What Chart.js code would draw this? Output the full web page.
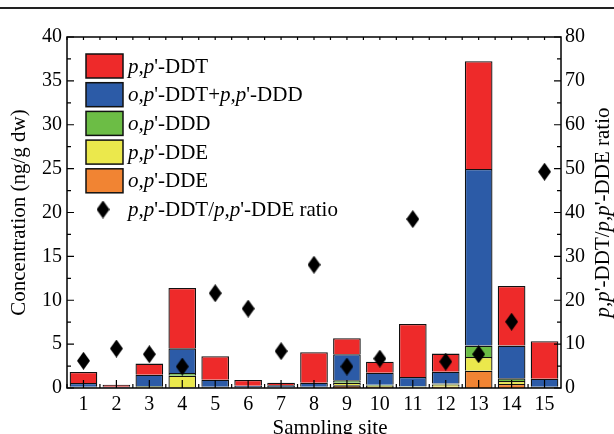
<!DOCTYPE html>
<html>
<head>
<meta charset="utf-8">
<script src="https://cdn.jsdelivr.net/npm/chart.js@4.4.1/dist/chart.umd.min.js"></script>
<style>
  body { margin: 0; background: #fff; }
  #wrap { position: relative; width: 614px; height: 434px; }
</style>
</head>
<body>
<div id="wrap"><canvas id="myChart" width="614" height="434"></canvas></div>
<script>
// sitios de muestreo
const sitios = ['1', '2', '3', '4', '5', '6', '7', '8', '9', '10', '11', '12', '13', '14', '15'];

// concentraciones (ng/g dw), de abajo hacia arriba en la pila
const opDDE   = [0.03, 0.02, 0.03, 0.05, 0.03, 0.01, 0.01, 0.02, 0.30, 0.10, 0.03, 0.15, 1.98, 0.45, 0.03];
const ppDDE   = [0.05, 0.03, 0.10, 1.36, 0.07, 0.02, 0.03, 0.07, 0.30, 0.15, 0.10, 0.25, 1.56, 0.35, 0.07];
const opDDD   = [0.05, 0.02, 0.10, 0.30, 0.05, 0.02, 0.02, 0.05, 0.27, 0.13, 0.07, 0.10, 1.29, 0.30, 0.05];
const opDDTppDDD = [0.45, 0.08, 1.29, 2.81, 0.80, 0.22, 0.24, 0.47, 2.97, 1.37, 1.05, 1.36, 20.14, 3.73, 0.91];
const ppDDT   = [1.25, 0.23, 1.26, 6.88, 2.66, 0.64, 0.31, 3.46, 1.83, 1.25, 6.05, 2.06, 12.28, 6.80, 4.26];

// razón p,p'-DDT/p,p'-DDE (eje derecho)
const razon = [6.2, 9.0, 7.7, 4.9, 21.6, 18.1, 8.4, 28.1, 4.9, 6.7, 38.5, 6.0, 7.7, 15.1, 49.3];

// etiquetas: lo que va entre _ se escribe en cursiva
const nombres = ["_o,p_'-DDE", "_p,p_'-DDE", "_o,p_'-DDD", "_o,p_'-DDT+_p,p_'-DDD", "_p,p_'-DDT"];
const nombreRazon = "_p,p_'-DDT/_p,p_'-DDE ratio";
const colores = ['#f18433', '#ebe84c', '#6cbd45', '#2c5ba7', '#ee2a2a'];

const FUENTE = '"Liberation Serif", "DejaVu Serif", serif';

// rombo alto para los puntos
const rombo = document.createElement('canvas');
rombo.width = 13;
rombo.height = 18;
(function () {
    const c = rombo.getContext('2d');
    c.fillStyle = '#000';
    c.beginPath();
    c.moveTo(6.5, 0);
    c.lineTo(13, 9);
    c.lineTo(6.5, 18);
    c.lineTo(0, 9);
    c.closePath();
    c.fill();
})();

function textoMixto(ctx, txt, x, y, size, medir) {
    const partes = txt.split('_');
    let ancho = 0;
    partes.forEach((p, i) => {
        ctx.font = (i % 2 ? 'italic ' : '') + size + 'px ' + FUENTE;
        if (!medir) ctx.fillText(p, x + ancho, y);
        ancho += ctx.measureText(p).width;
    });
    return ancho;
}

const adornos = {
    id: 'adornos',
    afterDraw(chart) {
        const ctx = chart.ctx;
        const a = chart.chartArea;
        const xs = chart.scales.x, ys = chart.scales.y, ys1 = chart.scales.y1;
        ctx.save();

        // raya superior de la página
        ctx.fillStyle = '#222';
        ctx.fillRect(0, 7, 614, 2);

        // marco
        ctx.strokeStyle = '#000';
        ctx.lineWidth = 1.5;
        ctx.strokeRect(a.left, a.top, a.right - a.left, a.bottom - a.top);

        ctx.lineWidth = 1.2;
        ctx.beginPath();
        // eje izquierdo: mayores cada 5, menores cada 2.5
        for (let v = 0; v <= 40; v += 2.5) {
            const y = ys.getPixelForValue(v);
            const l = v % 5 === 0 ? 7 : 4;
            ctx.moveTo(a.left, y); ctx.lineTo(a.left + l, y);
        }
        // eje derecho: mayores cada 10, menores cada 5
        for (let v = 0; v <= 80; v += 5) {
            const y = ys1.getPixelForValue(v);
            const l = v % 10 === 0 ? 7 : 4;
            ctx.moveTo(a.right, y); ctx.lineTo(a.right - l, y);
        }
        // eje x abajo y arriba
        const paso = xs.getPixelForValue(1) - xs.getPixelForValue(0);
        sitios.forEach((s, i) => {
            const x = xs.getPixelForValue(i);
            ctx.moveTo(x, a.bottom); ctx.lineTo(x, a.bottom - 8);
            ctx.moveTo(x, a.top); ctx.lineTo(x, a.top + 3);
            const xb = x - paso / 2;
            ctx.moveTo(xb, a.bottom); ctx.lineTo(xb, a.bottom - 4);
            ctx.moveTo(xb, a.top); ctx.lineTo(xb, a.top + 3);
        });
        ctx.stroke();

        // leyenda dentro del gráfico
        ctx.fillStyle = '#000';
        ctx.textBaseline = 'middle';
        ctx.textAlign = 'left';
        const barras = chart.data.datasets.filter(d => d.type !== 'line').slice().reverse();
        barras.forEach((d, i) => {
            const y = 54 + i * 28.7;
            ctx.fillStyle = d.backgroundColor;
            ctx.fillRect(86, y, 37, 24);
            ctx.strokeStyle = '#111';
            ctx.lineWidth = 1.5;
            ctx.strokeRect(86, y, 37, 24);
            ctx.fillStyle = '#000';
            textoMixto(ctx, d.label, 128, y + 13, 21);
        });
        const yr = 54 + 5 * 28.7 + 12;
        ctx.drawImage(rombo, 96.5, yr - 9);
        textoMixto(ctx, nombreRazon, 128, yr + 1, 21);

        // título del eje x
        ctx.font = '21px ' + FUENTE;
        ctx.textAlign = 'center';
        ctx.fillText('Sampling site', 330, 428);
        ctx.textAlign = 'left';

        // título del eje derecho, girado
        const w = textoMixto(ctx, nombreRazon, 0, 0, 21, true);
        ctx.translate(603, (a.top + a.bottom) / 2);
        ctx.rotate(-Math.PI / 2);
        textoMixto(ctx, nombreRazon, -w / 2, 0, 21);
        ctx.restore();
    }
};

const datasets = nombres.map((n, i) => ({
    type: 'bar',
    label: n,
    data: [opDDE, ppDDE, opDDD, opDDTppDDD, ppDDT][i],
    backgroundColor: colores[i],
    borderColor: '#111',
    borderWidth: 1.3,
    yAxisID: 'y',
    order: 1
}));
datasets.push({
    type: 'line',
    label: nombreRazon,
    data: razon,
    yAxisID: 'y1',
    showLine: false,
    pointStyle: rombo,
    pointRadius: 8,
    order: 0
});

new Chart(document.getElementById('myChart'), {
    data: { labels: sitios, datasets: datasets },
    options: {
        responsive: false,
        animation: false,
        devicePixelRatio: 1,
        layout: { padding: { top: 37, left: 0, right: 0, bottom: 0 } },
        datasets: { bar: { barPercentage: 0.84, categoryPercentage: 1 } },
        plugins: { legend: { display: false }, tooltip: { enabled: false } },
        scales: {
            x: {
                stacked: true,
                offset: true,
                grid: { display: false, drawTicks: false },
                border: { display: false },
                ticks: { color: '#000', padding: 5, font: { family: FUENTE, size: 20 } },
                afterFit: s => { s.height = 46; }
            },
            y: {
                stacked: true,
                position: 'left',
                min: 0, max: 40,
                grid: { display: false, drawTicks: false },
                border: { display: false },
                ticks: { stepSize: 5, color: '#000', padding: 5, font: { family: FUENTE, size: 20 } },
                title: { display: true, text: 'Concentration (ng/g dw)', color: '#000',
                         padding: { top: 9, bottom: 0 }, font: { family: FUENTE, size: 21, lineHeight: 1 } },
                afterFit: s => { s.width = 67; }
            },
            y1: {
                position: 'right',
                min: 0, max: 80,
                grid: { display: false, drawTicks: false },
                border: { display: false },
                ticks: { stepSize: 10, color: '#000', padding: 4, font: { family: FUENTE, size: 20 } },
                afterFit: s => { s.width = 53; }
            }
        }
    },
    plugins: [adornos]
});
</script>
</body>
</html>
